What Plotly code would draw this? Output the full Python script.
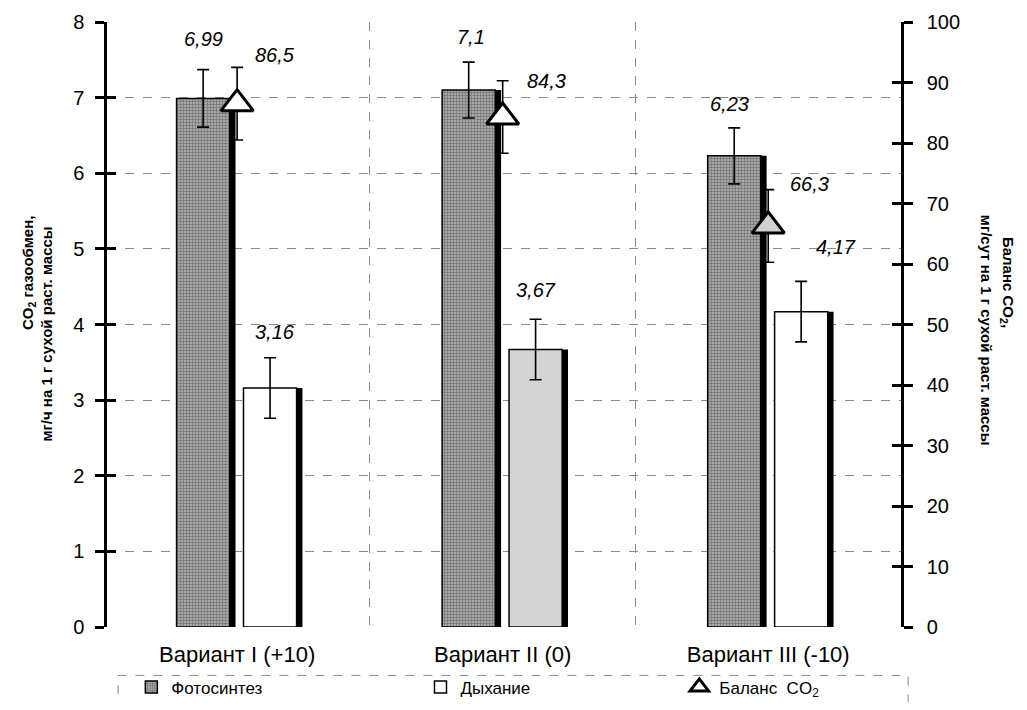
import plotly.graph_objects as go

# ---------------- data ----------------
categories = ["Вариант I (+10)", "Вариант II (0)", "Вариант III (-10)"]
photosynthesis = [6.99, 7.1, 6.23]          # мг/ч, left axis
photosynthesis_err = [0.38, 0.37, 0.37]
respiration = [3.16, 3.67, 4.17]            # мг/ч, left axis
respiration_err = [0.40, 0.40, 0.40]
balance = [86.5, 84.3, 66.3]                # мг/сут, right axis
balance_err = [6.0, 6.0, 6.0]
left_ticks = [0, 1, 2, 3, 4, 5, 6, 7, 8]
right_ticks = [0, 10, 20, 30, 40, 50, 60, 70, 80, 90, 100]

# ---------------- style ----------------
FONT = "Liberation Sans, Arial, sans-serif"
BAR_W = 0.2
PHOTO_OFF = -0.228
RESP_OFF = 0.024
SHADOW_DX = 0.022
resp_colors = ["white", "#d4d4d4", "white"]
tri_colors = ["white", "white", "#d0d0d0"]
# label shifts (px) relative to error-bar top
photo_shift = [(0, 31), (2, 25), (-5, 24)]
resp_shift = [(5, 26), (0, 29), (35, 34)]
tri_shift = [(38, 12), (44, 0), (41, 6)]
legend_x = [0.122, 0.408, 0.664]   # container fractions

xs = list(range(len(categories)))


def fmt(v):
    return f"{v:g}".replace(".", ",")


fig = go.Figure()

# shadows
for vals, off in ((photosynthesis, PHOTO_OFF), (respiration, RESP_OFF)):
    fig.add_trace(go.Bar(
        x=xs, y=vals, width=BAR_W, offset=off + SHADOW_DX,
        marker=dict(color="black", line=dict(width=0)),
        showlegend=False, hoverinfo="skip",
    ))

fig.add_trace(go.Bar(
    name="Фотосинтез", x=xs, y=photosynthesis, width=BAR_W, offset=PHOTO_OFF,
    legend="legend",
    marker=dict(color="#8e8e8e", line=dict(color="black", width=1.5),
                pattern=dict(shape="+", fgcolor="#3c3c3c", bgcolor="#a8a8a8",
                             size=3, solidity=0.4)),
    error_y=dict(type="data", array=photosynthesis_err, color="black",
                 thickness=1.6, width=6),
))
fig.add_trace(go.Bar(
    name="Дыхание", x=xs, y=respiration, width=BAR_W, offset=RESP_OFF,
    legend="legend2",
    marker=dict(color=resp_colors, line=dict(color="black", width=1.5)),
    error_y=dict(type="data", array=respiration_err, color="black",
                 thickness=1.6, width=6),
))
fig.add_trace(go.Scatter(
    name="Баланс  CO<sub>2</sub>", x=xs, y=balance, yaxis="y2", mode="markers",
    legend="legend3",
    marker=dict(symbol="triangle-up", size=28, color=tri_colors,
                line=dict(color="black", width=3)),
    error_y=dict(type="data", array=balance_err, color="black",
                 thickness=1.6, width=6),
))

# inside-tick overlays (ticks crossing the axis lines)
fig.add_trace(go.Scatter(x=[None], y=[None], yaxis="y3", showlegend=False, hoverinfo="skip"))
fig.add_trace(go.Scatter(x=[None], y=[None], yaxis="y4", showlegend=False, hoverinfo="skip"))

annotations = []
for i in xs:
    dx, dy = photo_shift[i]
    annotations.append(dict(x=i + PHOTO_OFF + BAR_W / 2, y=photosynthesis[i] + photosynthesis_err[i],
                            xref="x", yref="y", text=fmt(photosynthesis[i]), showarrow=False,
                            xshift=dx, yshift=dy, yanchor="middle",
                            font=dict(family=FONT, size=20, color="black", style="italic")))
    dx, dy = resp_shift[i]
    annotations.append(dict(x=i + RESP_OFF + BAR_W / 2, y=respiration[i] + respiration_err[i],
                            xref="x", yref="y", text=fmt(respiration[i]), showarrow=False,
                            xshift=dx, yshift=dy, yanchor="middle",
                            font=dict(family=FONT, size=20, color="black", style="italic")))
    dx, dy = tri_shift[i]
    annotations.append(dict(x=i, y=balance[i] + balance_err[i],
                            xref="x", yref="y2", text=fmt(balance[i]), showarrow=False,
                            xshift=dx, yshift=dy, yanchor="middle",
                            font=dict(family=FONT, size=20, color="black", style="italic")))

title_font = dict(family=FONT, size=15, color="black", weight="bold")
annotations += [
    dict(text="CO<sub>2</sub> газообмен,", textangle=-90, xref="paper", yref="paper",
         x=-0.0995, y=0.585, xanchor="center", yanchor="middle", showarrow=False,
         font=title_font),
    dict(text="мг/ч на 1 г сухой раст. массы", textangle=-90, xref="paper", yref="paper",
         x=-0.0756, y=0.485, xanchor="center", yanchor="middle", showarrow=False,
         font=title_font),
    dict(text="Баланс CO<sub>2</sub>,", textangle=90, xref="paper", yref="paper",
         x=1.135, y=0.57, xanchor="center", yanchor="middle", showarrow=False,
         font=title_font),
    dict(text="мг/сут на 1 г сухой раст. массы", textangle=90, xref="paper", yref="paper",
         x=1.108, y=0.49, xanchor="center", yanchor="middle", showarrow=False,
         font=title_font),
]


def legend_box(xpos):
    return dict(
        orientation="h", xref="container", x=xpos, xanchor="left",
        yref="paper", y=-0.070, yanchor="top",
        font=dict(size=17), bgcolor="rgba(0,0,0,0)", borderwidth=0,
    )


fig.update_layout(
    width=1011, height=694,
    margin=dict(l=99, r=118, t=14, b=75, autoexpand=False),
    paper_bgcolor="white", plot_bgcolor="white",
    barmode="overlay",
    font=dict(family=FONT, color="black"),
    xaxis=dict(
        range=[-0.49, 2.5], tickmode="array", tickvals=xs, ticktext=categories,
        tickfont=dict(size=22), ticks="", showline=False, zeroline=False,
        showgrid=False, automargin=False, ticklabelstandoff=12,
        minor=dict(tickmode="array", tickvals=[i + 0.5 for i in xs[:-1]],
                   showgrid=True, gridcolor="#8a8a8a", griddash="dash", gridwidth=1, ticks=""),
    ),
    yaxis=dict(
        range=[0, 8], tickmode="array", tickvals=left_ticks, automargin=False,
        tickfont=dict(size=20), ticks="outside", ticklen=9, tickwidth=2.5, tickcolor="black",
        showline=True, linecolor="black", linewidth=2.5,
        showgrid=True, gridcolor="#8a8a8a", griddash="dash", gridwidth=1,
        zeroline=False, ticklabelstandoff=7,
    ),
    yaxis2=dict(
        range=[0, 100], tickmode="array", tickvals=right_ticks, overlaying="y", side="right",
        tickfont=dict(size=20), ticks="outside", ticklen=9, tickwidth=2.5, tickcolor="black",
        showline=True, linecolor="black", linewidth=2.5, automargin=False,
        showgrid=False, zeroline=False, ticklabelstandoff=10,
    ),
    yaxis3=dict(
        range=[0, 8], tickmode="array", tickvals=left_ticks, overlaying="y", side="left",
        ticks="inside", ticklen=9, tickwidth=2.5, tickcolor="black", automargin=False,
        showticklabels=False, showgrid=False, zeroline=False, showline=False,
    ),
    yaxis4=dict(
        range=[0, 100], tickmode="array", tickvals=right_ticks, overlaying="y", side="right",
        ticks="inside", ticklen=9, tickwidth=2.5, tickcolor="black", automargin=False,
        showticklabels=False, showgrid=False, zeroline=False, showline=False,
    ),
    legend=legend_box(legend_x[0]),
    legend2=legend_box(legend_x[1]),
    legend3=legend_box(legend_x[2]),
    shapes=[dict(type="rect", xref="paper", yref="paper", x0=0.014, x1=1.009,
                 y0=-0.13, y1=-0.080, line=dict(color="#8a8a8a", width=1, dash="dash"))],
    annotations=annotations,
    showlegend=True,
)

fig.write_html("out.html")
